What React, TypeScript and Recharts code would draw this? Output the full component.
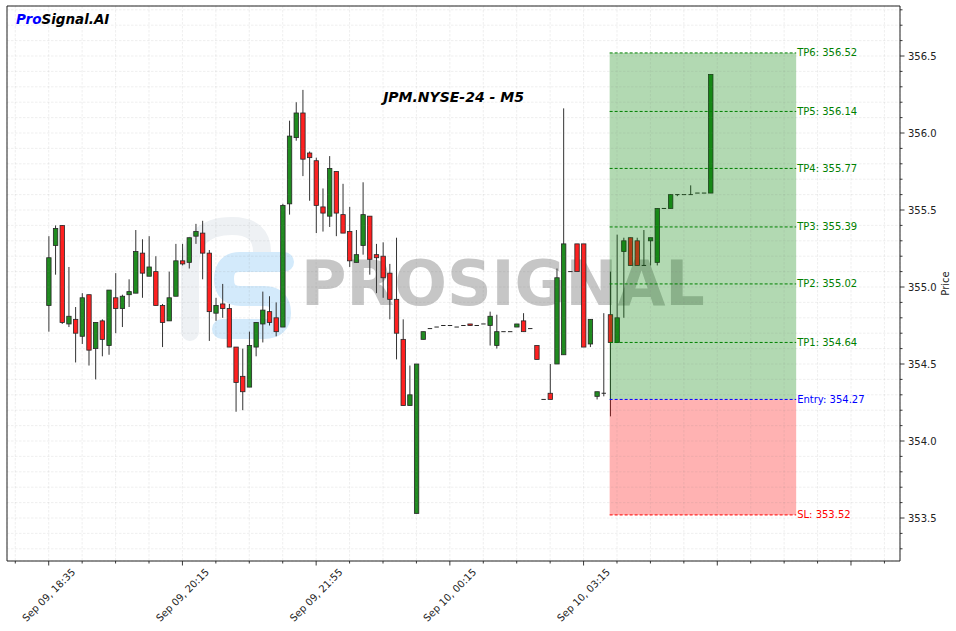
import React from 'react';
import {
  ComposedChart,
  Bar,
  XAxis,
  YAxis,
  CartesianGrid,
  ReferenceArea,
  ReferenceLine,
  Customized,
} from 'recharts';

// ---- data ----
const OPEN = [
  354.88, 355.27, 355.40, 354.76, 354.79, 354.68, 354.95, 354.60, 354.78, 354.62,
  354.93, 354.86, 354.95, 354.96, 355.22, 355.07, 355.10, 354.88, 354.78, 354.94,
  355.17, 355.16, 355.33, 355.35, 355.22, 354.83, 354.89, 354.86, 354.61, 354.42,
  354.35, 354.61, 354.76, 354.84, 354.80, 354.74, 355.54, 355.97, 356.13, 355.87,
  355.82, 355.52, 355.46, 355.75, 355.47, 355.36, 355.16, 355.27, 355.46, 355.21,
  355.20, 355.09, 354.92, 354.66, 354.23, 353.53, 354.66, 354.73, 354.74, 354.75,
  354.75, 354.74, 354.75, 354.76, 354.75, 354.76, 354.75, 354.62, 354.71, 354.71,
  354.74, 354.78, 354.73, 354.62, 354.27, 354.31, 354.50, 354.56, 355.10, 355.28,
  355.28, 354.63, 354.29, 354.31, 354.82, 354.64, 355.23, 355.32, 355.30, 355.14,
  355.30, 355.16, 355.51, 355.51, 355.60, 355.60, 355.60, 355.61, 355.61, 355.61,
];
const HIGH = [
  355.33, 355.40, 355.40, 355.13, 354.87, 354.96, 354.95, 354.77, 354.79, 354.98,
  355.09, 354.95, 355.05, 355.37, 355.31, 355.33, 355.20, 354.89, 355.10, 355.28,
  355.28, 355.32, 355.41, 355.43, 355.24, 354.93, 355.02, 354.89, 354.61, 354.60,
  354.71, 354.77, 354.97, 354.94, 354.90, 355.54, 356.08, 356.20, 356.28, 355.88,
  355.84, 355.64, 355.85, 355.75, 355.67, 355.52, 355.37, 355.68, 355.46, 355.28,
  355.29, 355.15, 355.32, 354.79, 354.49, 354.50, 354.71, 354.73, 354.74, 354.75,
  354.75, 354.74, 354.75, 354.76, 354.75, 354.76, 354.84, 354.82, 354.71, 354.71,
  354.76, 354.83, 354.73, 354.62, 354.27, 354.50, 355.12, 356.16, 355.10, 355.28,
  355.28, 354.79, 354.32, 354.83, 355.10, 355.34, 355.32, 355.32, 355.32, 355.37,
  355.32, 355.51, 355.51, 355.60, 355.60, 355.60, 355.66, 355.61, 355.61, 356.38,
];
const LOW = [
  354.71, 355.08, 354.76, 354.74, 354.51, 354.63, 354.49, 354.40, 354.55, 354.56,
  354.70, 354.74, 354.87, 354.96, 354.93, 355.07, 354.88, 354.61, 354.78, 354.94,
  355.14, 355.12, 355.28, 355.05, 354.65, 354.78, 354.80, 354.61, 354.19, 354.20,
  354.35, 354.55, 354.64, 354.75, 354.68, 354.74, 355.47, 355.95, 355.72, 355.56,
  355.35, 355.36, 355.39, 355.33, 355.35, 355.13, 355.16, 355.21, 355.08, 354.96,
  354.93, 354.79, 354.53, 354.23, 354.23, 353.53, 354.66, 354.73, 354.74, 354.75,
  354.75, 354.74, 354.75, 354.75, 354.75, 354.76, 354.62, 354.60, 354.71, 354.71,
  354.74, 354.71, 354.73, 354.53, 354.27, 354.27, 354.50, 354.56, 355.10, 355.10,
  354.61, 354.61, 354.27, 354.29, 354.16, 354.64, 354.80, 355.14, 355.14, 355.14,
  355.14, 355.14, 355.51, 355.51, 355.59, 355.60, 355.60, 355.61, 355.61, 355.61,
];
const CLOSE = [
  355.19, 355.38, 354.77, 354.81, 354.70, 354.93, 354.59, 354.77, 354.66, 354.98,
  354.86, 354.94, 354.97, 355.23, 355.09, 355.13, 354.88, 354.77, 354.93, 355.17,
  355.15, 355.32, 355.36, 355.22, 354.84, 354.88, 354.86, 354.61, 354.38, 354.32,
  354.62, 354.77, 354.85, 354.77, 354.71, 355.53, 355.98, 356.13, 355.83, 355.84,
  355.53, 355.48, 355.77, 355.48, 355.35, 355.17, 355.21, 355.47, 355.18, 355.19,
  355.06, 354.92, 354.70, 354.23, 354.30, 354.50, 354.71, 354.73, 354.74, 354.75,
  354.75, 354.74, 354.75, 354.75, 354.75, 354.76, 354.81, 354.71, 354.71, 354.71,
  354.76, 354.71, 354.73, 354.53, 354.27, 354.27, 355.06, 355.28, 355.10, 355.10,
  354.61, 354.79, 354.32, 354.31, 354.64, 354.80, 355.30, 355.14, 355.14, 355.14,
  355.32, 355.51, 355.51, 355.60, 355.60, 355.60, 355.60, 355.61, 355.61, 356.38,
];

const X_TICKS = [
  -5, 0, 5, 10, 15, 20, 25, 30, 35, 40, 45, 50, 55, 60, 65, 70, 75, 80, 85, 90,
  95, 100, 105, 110, 115, 120, 125,
];
const X_MAJOR = [0, 20, 40, 60, 80, 100, 120];
const X_LABELS = ['Sep 09, 18:35', 'Sep 09, 20:15', 'Sep 09, 21:55', 'Sep 10, 00:15', 'Sep 10, 03:15', '', ''];

const Y_TICKS = [
  353.3, 353.4, 353.5, 353.6, 353.7, 353.8, 353.9, 354.0, 354.1, 354.2, 354.3,
  354.4, 354.5, 354.6, 354.7, 354.8, 354.9, 355.0, 355.1, 355.2, 355.3, 355.4,
  355.5, 355.6, 355.7, 355.8, 355.9, 356.0, 356.1, 356.2, 356.3, 356.4, 356.5,
  356.6, 356.7, 356.8,
];

const TP_NAMES = ['TP1', 'TP2', 'TP3', 'TP4', 'TP5', 'TP6'];
const TP_VALUES = [354.64, 355.02, 355.39, 355.77, 356.14, 356.52];
const ENTRY = 354.27;
const SL = 353.52;
const ZONE_START = 83.9;
const ZONE_END = 111.8;

const X_DOMAIN: [number, number] = [-6.24, 127.33];
const Y_DOMAIN: [number, number] = [353.2208, 356.8247];

// ---- layout / style ----
const W = 956;
const H = 631;
const EPS = 0.001;
const BODY_W = 4.4;
const GREEN = '#1f8b1f';
const RED = '#ff2020';
const EDGE = '#262626';
const WICK = '#333333';

const data = OPEN.map((o, i) => ({
  i,
  o,
  h: HIGH[i],
  l: LOW[i],
  c: CLOSE[i],
  range: [LOW[i] - EPS, HIGH[i] + EPS],
}));

const Candle = (props: any) => {
  const { x, width, y, height, payload } = props;
  if (payload == null || height == null) return null;
  const { o, h, l, c } = payload;
  const hi = h + EPS;
  const lo = l - EPS;
  const ppu = height / (hi - lo);
  const py = (p: number) => y + (hi - p) * ppu;
  const cx = x + width / 2;
  const top = py(Math.max(o, c));
  const bot = py(Math.min(o, c));
  const up = c >= o;
  const bh = bot - top;
  return (
    <g>
      <line x1={cx} x2={cx} y1={py(h)} y2={py(l)} stroke={WICK} strokeWidth={1} />
      {bh < 0.9 ? (
        <line x1={cx - BODY_W / 2} x2={cx + BODY_W / 2} y1={top} y2={top} stroke={EDGE} strokeWidth={1} />
      ) : (
        <rect
          x={cx - BODY_W / 2}
          y={top}
          width={BODY_W}
          height={bh}
          fill={up ? GREEN : RED}
          stroke={EDGE}
          strokeWidth={0.8}
        />
      )}
    </g>
  );
};

const XTick = (props: any) => {
  const { x, y, payload } = props;
  const v = payload.value;
  const mi = X_MAJOR.indexOf(v);
  const major = mi >= 0;
  const label = major ? X_LABELS[mi] : '';
  return (
    <g>
      <line x1={x} x2={x} y1={y} y2={y + (major ? 4.5 : 2.5)} stroke="#222" strokeWidth={0.9} />
      {label ? (
        <text
          transform={`translate(${x},${y + 34}) rotate(-45)`}
          textAnchor="middle"
          dominantBaseline="central"
          fontSize={10}
          fill="#222"
        >
          {label}
        </text>
      ) : null}
    </g>
  );
};

const YTick = (props: any) => {
  const { x, y, payload } = props;
  const v = payload.value;
  const major = Math.abs(v * 2 - Math.round(v * 2)) < 1e-6;
  return (
    <g>
      <line x1={x} x2={x + (major ? 4.5 : 2.5)} y1={y} y2={y} stroke="#222" strokeWidth={0.9} />
      {major ? (
        <text x={x + 8} y={y} dy="0.35em" textAnchor="start" fontSize={10} fill="#222">
          {v.toFixed(1)}
        </text>
      ) : null}
    </g>
  );
};

const Watermark = () => (
  <g>
    <path
      d="M 190 332 V 268 Q 190 226 232 226 Q 262 226 262 252"
      fill="none"
      stroke="#eef1f4"
      strokeWidth={18}
      strokeLinecap="round"
    />
    <path
      d="M 284 262 H 240 Q 224 262 224 279 Q 224 296 241 296 H 264 Q 281 296 281 313 Q 281 329 264 329 H 222"
      fill="none"
      stroke="#d3eafb"
      strokeWidth={20}
      strokeLinecap="round"
      strokeLinejoin="round"
    />
    <text x={301} y={305} fontSize={62} fontWeight="bold" fill="#c6c6c6" fontFamily="DejaVu Sans">
      PROSIGNAL
    </text>
  </g>
);

const Titles = () => (
  <g>
    <text x={16} y={24} fontSize={13.5} fontWeight="bold" fontStyle="italic">
      <tspan fill="#0000ff">Pro</tspan>
      <tspan fill="#000">Signal.AI</tspan>
    </text>
    <text x={453.5} y={102} fontSize={14} fontWeight="bold" fontStyle="italic" textAnchor="middle" fill="#000">
      JPM.NYSE-24 - M5
    </text>
    <text
      transform="translate(945,283.5) rotate(-90)"
      textAnchor="middle"
      dominantBaseline="central"
      fontSize={10}
      fill="#222"
    >
      Price
    </text>
  </g>
);

export default function App() {
  return (
    <div
      style={{
        position: 'absolute',
        left: 0,
        top: 0,
        width: W,
        height: H,
        background: '#fff',
        fontFamily: '"DejaVu Sans", sans-serif',
      }}
    >
      <ComposedChart width={W} height={H} data={data} margin={{ top: 6, right: 6, bottom: 0, left: 7 }}>
        <Customized component={Watermark} />
        <XAxis
          dataKey="i"
          type="number"
          domain={X_DOMAIN}
          allowDataOverflow
          ticks={X_TICKS}
          interval={0}
          height={70}
          tickSize={0}
          tickMargin={0}
          tickLine={false}
          axisLine={false}
          tick={<XTick />}
        />
        <YAxis
          orientation="right"
          type="number"
          domain={Y_DOMAIN}
          allowDataOverflow
          ticks={Y_TICKS}
          interval={0}
          width={50}
          tickSize={0}
          tickMargin={0}
          tickLine={false}
          axisLine={false}
          tick={<YTick />}
        />
        <Bar dataKey="range" barSize={5} shape={<Candle />} isAnimationActive={false} />
        <ReferenceArea
          x1={ZONE_START}
          x2={ZONE_END}
          y1={ENTRY}
          y2={TP_VALUES[TP_VALUES.length - 1]}
          fill="#008000"
          fillOpacity={0.3}
          stroke="none"
          zIndex={1500}
        />
        <ReferenceArea
          x1={ZONE_START}
          x2={ZONE_END}
          y1={SL}
          y2={ENTRY}
          fill="#ff0000"
          fillOpacity={0.3}
          stroke="none"
          zIndex={1500}
        />
        <CartesianGrid
          stroke="#808080"
          strokeOpacity={0.16}
          strokeDasharray="2.5 1.5"
          strokeWidth={0.8}
          zIndex={1550}
        />
        {TP_VALUES.map((v, k) => (
          <ReferenceLine
            key={TP_NAMES[k]}
            segment={[
              { x: ZONE_START, y: v },
              { x: ZONE_END, y: v },
            ]}
            stroke="#008000"
            strokeDasharray="3 2"
            strokeWidth={1}
            zIndex={1600}
            label={{ value: `${TP_NAMES[k]}: ${v.toFixed(2)}`, position: 'right', offset: 1, fill: '#008000', fontSize: 10 }}
          />
        ))}
        <ReferenceLine
          segment={[
            { x: ZONE_START, y: ENTRY },
            { x: ZONE_END, y: ENTRY },
          ]}
          stroke="#0000ff"
          strokeDasharray="3 2"
          strokeWidth={1}
          zIndex={1600}
          label={{ value: `Entry: ${ENTRY.toFixed(2)}`, position: 'right', offset: 1, fill: '#0000ff', fontSize: 10 }}
        />
        <ReferenceLine
          segment={[
            { x: ZONE_START, y: SL },
            { x: ZONE_END, y: SL },
          ]}
          stroke="#ff0000"
          strokeDasharray="3 2"
          strokeWidth={1}
          zIndex={1600}
          label={{ value: `SL: ${SL.toFixed(2)}`, position: 'right', offset: 1, fill: '#ff0000', fontSize: 10 }}
        />
        <ReferenceArea
          x1={X_DOMAIN[0]}
          x2={X_DOMAIN[1]}
          y1={Y_DOMAIN[0]}
          y2={Y_DOMAIN[1]}
          fill="none"
          stroke="#222"
          strokeWidth={1}
          zIndex={1700}
        />
        <Customized component={Titles} />
      </ComposedChart>
    </div>
  );
}
